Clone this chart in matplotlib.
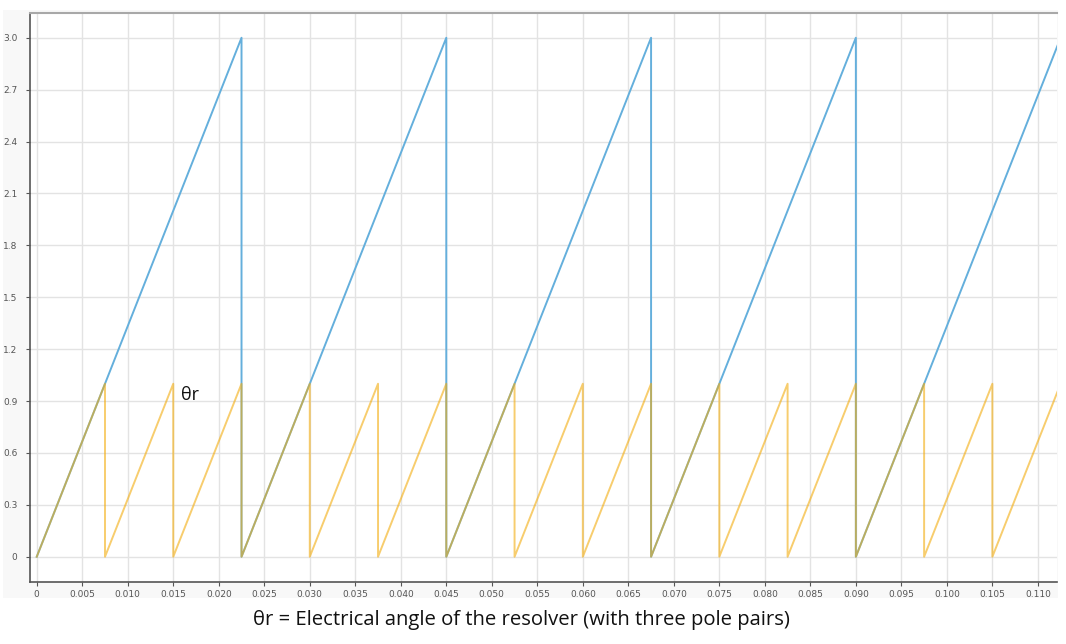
import matplotlib
matplotlib.use("Agg")
import matplotlib.pyplot as plt
from matplotlib.patches import Rectangle

# Mechanical angle (blue) sawtooth vertices
blue_t = [0, 0.0225, 0.0225, 0.045, 0.045, 0.0675, 0.0675, 0.09, 0.09, 0.1125]
blue_v = [0, 3.0, 0, 3.0, 0, 3.0, 0, 3.0, 0, 3.0]

# Electrical angle θr (yellow) sawtooth vertices
yel_t = [0, 0.0075, 0.0075, 0.015, 0.015, 0.0225, 0.0225, 0.03, 0.03, 0.0375, 0.0375,
         0.045, 0.045, 0.0525, 0.0525, 0.06, 0.06, 0.0675, 0.0675, 0.075, 0.075,
         0.0825, 0.0825, 0.09, 0.09, 0.0975, 0.0975, 0.105, 0.105, 0.1125]
yel_v = [0, 1, 0, 1, 0, 1, 0, 1, 0, 1, 0,
         1, 0, 1, 0, 1, 0, 1, 0, 1, 0,
         1, 0, 1, 0, 1, 0, 1, 0, 1]

x_ticks = [0, 0.005, 0.010, 0.015, 0.020, 0.025, 0.030, 0.035, 0.040, 0.045, 0.050,
           0.055, 0.060, 0.065, 0.070, 0.075, 0.080, 0.085, 0.090, 0.095, 0.100,
           0.105, 0.110]
x_labels = ["0", "0.005", "0.010", "0.015", "0.020", "0.025", "0.030", "0.035", "0.040",
            "0.045", "0.050", "0.055", "0.060", "0.065", "0.070", "0.075", "0.080",
            "0.085", "0.090", "0.095", "0.100", "0.105", "0.110"]
y_ticks = [0, 0.3, 0.6, 0.9, 1.2, 1.5, 1.8, 2.1, 2.4, 2.7, 3.0]
y_labels = ["0", "0.3", "0.6", "0.9", "1.2", "1.5", "1.8", "2.1", "2.4", "2.7", "3.0"]

annot_text = "θr"
caption = "θr = Electrical angle of the resolver (with three pole pairs)"

W, H = 1066, 644
fig = plt.figure(figsize=(W / 100, H / 100), dpi=100)
fig.patch.set_facecolor("white")

# light grey panel behind the chart
fig.patches.append(Rectangle((3 / W, 1 - 598 / H), (1058 - 3) / W, (598 - 10) / H,
                             transform=fig.transFigure, facecolor="#f8f8f8",
                             edgecolor="none", zorder=0))

ax = fig.add_axes([30 / W, 1 - 582 / H, (1057 - 30) / W, (582 - 13) / H])
ax.set_facecolor("white")
ax.set_zorder(1)

ax.plot(blue_t, blue_v, color="#64afdc", lw=1.4, alpha=1.0, zorder=3)
ax.plot(yel_t, yel_v, color="#f3ac0d", lw=1.4, alpha=0.6, zorder=4)

ax.set_xlim(-0.00074, 0.1121)
ax.set_ylim(-0.146, 3.143)
ax.set_xticks(x_ticks)
ax.set_xticklabels(x_labels)
ax.set_yticks(y_ticks)
ax.set_yticklabels(y_labels)
ax.grid(True, color="#e3e3e3", lw=1.0, zorder=0)
ax.set_axisbelow(True)

ax.tick_params(axis="both", labelsize=6.5, labelcolor="#555555", color="#555555",
               length=3, width=0.8)
ax.tick_params(axis="x", pad=3)
ax.tick_params(axis="y", pad=6)

for s in ["left", "bottom"]:
    ax.spines[s].set_color("#555555")
    ax.spines[s].set_linewidth(1.2)
ax.spines["top"].set_color("#a8a8a8")
ax.spines["top"].set_linewidth(1.5)
ax.spines["right"].set_visible(False)

ax.text(0.0158, 0.935, annot_text, fontsize=13, family="Open Sans",
        ha="left", va="center", color="#111111", zorder=5)

fig.text(521 / W, 1 - 620 / H, caption, fontsize=14.6, family="Open Sans",
         ha="center", va="center", color="#111111")

fig.savefig("out.png", dpi=100)
